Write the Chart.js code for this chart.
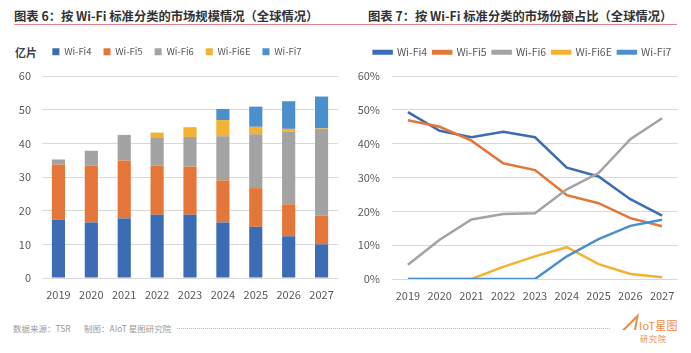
<!DOCTYPE html>
<html>
<head>
<meta charset="utf-8">
<script src="https://cdn.jsdelivr.net/npm/chart.js@4.4.1/dist/chart.umd.min.js"></script>
<style>
  body { margin: 0; width: 691px; height: 353px; overflow: hidden; position: relative; background: #fff;
         font-family: "Noto Sans CJK SC", "Noto Sans", sans-serif; }
  .title { position: absolute; top: 9px; font-size: 12.3px; line-height: 15px; font-weight: bold; color: #333; white-space: nowrap; }
  .rule { position: absolute; left: 14px; top: 24px; width: 663px; height: 1px; background: #e2848d; }
  .box { position: absolute; top: 30px; height: 274px; }
  .unit { position: absolute; left: 15px; top: 44px; font-size: 11px; font-weight: bold; color: #404040; }
  .foot { position: absolute; top: 322px; font-size: 8.5px; color: #9a9a9a; white-space: nowrap; }
  .dots { position: absolute; left: 177px; top: 328px; width: 433px; border-top: 1px dotted #b8b8b8; }
  .logo { position: absolute; left: 622px; top: 311px; width: 56px; height: 38px; color: #ef8a45; }
</style>
</head>
<body>
<div class="title" style="left:14px">图表 6：按 Wi-Fi 标准分类的市场规模情况（全球情况）</div>
<div class="title" style="left:368px">图表 7：按 Wi-Fi 标准分类的市场份额占比（全球情况）</div>
<div class="rule"></div>
<div class="unit">亿片</div>

<div class="box" style="left:0;width:345px"><canvas id="units"></canvas></div>
<div class="box" style="left:345px;width:346px"><canvas id="share"></canvas></div>

<div class="foot" style="left:13px">数据来源：TSR</div>
<div class="foot" style="left:84px">制图：AIoT 星图研究院</div>
<div class="dots"></div>
<div class="logo">
  <svg width="20" height="18" style="position:absolute;left:0;top:2px">
    <polygon points="0,17 17,0 14,17 12,17 14,6 3,17" fill="#ef8a45"/>
  </svg>
  <span style="position:absolute;left:17px;top:6px;font-size:11px;letter-spacing:0.2px">IoT星图</span>
  <span style="position:absolute;left:18px;top:22px;font-size:8px;letter-spacing:1px">研究院</span>
</div>

<script>
const years = ['2019', '2020', '2021', '2022', '2023', '2024', '2025', '2026', '2027'];
const seriesNames = ['Wi-Fi4', 'Wi-Fi5', 'Wi-Fi6', 'Wi-Fi6E', 'Wi-Fi7'];
const colors = ['#3c6db4', '#e5763a', '#a3a3a3', '#f4b232', '#4b90cc'];

// 亿片
const unitsWifi4  = [17.3, 16.5, 17.7, 18.8, 18.8, 16.5, 15.2, 12.4, 10.0];
const unitsWifi5  = [16.4, 16.9, 17.2, 14.6, 14.3, 12.5, 11.5, 9.5, 8.5];
const unitsWifi6  = [1.5, 4.4, 7.6, 8.4, 8.8, 13.1, 16.0, 21.6, 25.8];
const unitsWifi6E = [0, 0, 0, 1.4, 2.9, 4.8, 2.2, 0.8, 0.2];
const unitsWifi7  = [0, 0, 0, 0, 0, 3.3, 6.0, 8.2, 9.4];

// %
const shareWifi4  = [49.3, 43.8, 41.9, 43.5, 41.9, 32.9, 30.3, 23.6, 18.7];
const shareWifi5  = [46.9, 45.0, 40.9, 34.2, 32.2, 24.8, 22.4, 18.0, 15.6];
const shareWifi6  = [4.2, 11.6, 17.6, 19.2, 19.4, 26.5, 31.3, 41.3, 47.5];
const shareWifi6E = [0, 0, 0, 3.6, 6.7, 9.4, 4.4, 1.5, 0.5];
const shareWifi7  = [0, 0, 0, 0, 0, 6.7, 11.8, 15.7, 17.5];

const FONT = '"Noto Sans CJK SC", "Noto Sans", sans-serif';
const tickColor = '#595959';
const gridColor = '#d9d9d9';

// legend: 高さを固定してプロット上端を合わせ、横位置だけずらす
function legendBox(h, shift) {
  return {
    id: 'legendBox',
    beforeInit(chart) {
      const fit = chart.legend.fit;
      chart.legend.fit = function () { fit.call(this); this.height = h; };
    },
    afterLayout(chart) {
      chart.legend.left += shift;
      chart.legend.right += shift;
    }
  };
}

function axes(yMax, yWidth, yPad, xHeight, fmt) {
  return {
    x: {
      grid: { display: false, drawTicks: false },
      border: { display: false },
      ticks: { color: tickColor, padding: 10, font: { family: FONT, size: 11 } },
      afterFit: s => { s.height = xHeight; }
    },
    y: {
      min: 0, max: yMax,
      grid: { color: gridColor, lineWidth: 1, drawTicks: false },
      border: { display: false },
      ticks: { stepSize: 10, color: tickColor, padding: yPad, font: { family: FONT, size: 11 }, callback: fmt },
      afterFit: s => { s.width = yWidth; }
    }
  };
}

Chart.defaults.animation = false;

const unitAxes = axes(60, 42, 11, 26, v => v);
unitAxes.x.stacked = true;
unitAxes.y.stacked = true;

new Chart(document.getElementById('units'), {
  type: 'bar',
  data: {
    labels: years,
    datasets: [unitsWifi4, unitsWifi5, unitsWifi6, unitsWifi6E, unitsWifi7].map((d, i) => ({
      label: seriesNames[i], data: d, backgroundColor: colors[i], borderWidth: 0,
      categoryPercentage: 0.8, barPercentage: 0.5
    }))
  },
  options: {
    responsive: true,
    maintainAspectRatio: false,
    layout: { padding: { left: 0, right: 7, top: 5, bottom: 0 } },
    scales: unitAxes,
    plugins: {
      legend: {
        labels: { boxWidth: 7, boxHeight: 7, padding: 12, color: '#595959', font: { family: FONT, size: 9.5 } }
      },
      tooltip: { enabled: false }
    }
  },
  plugins: [legendBox(41, 8)]
});

const shareAxes = axes(60, 47, 12, 25, v => v + '%');
shareAxes.x.offset = true;

new Chart(document.getElementById('share'), {
  type: 'line',
  data: {
    labels: years,
    datasets: [shareWifi4, shareWifi5, shareWifi6, shareWifi6E, shareWifi7].map((d, i) => ({
      label: seriesNames[i], data: d, borderColor: colors[i], backgroundColor: colors[i],
      borderWidth: 2.5, pointRadius: 0, tension: 0, order: 4 - i
    }))
  },
  options: {
    responsive: true,
    maintainAspectRatio: false,
    layout: { padding: { left: 0, right: 13, top: 11, bottom: 0 } },
    scales: shareAxes,
    plugins: {
      legend: {
        labels: {
          boxWidth: 18, boxHeight: 2.5, padding: 6, color: '#595959',
          font: { family: FONT, size: 10.5 },
          sort: (a, b) => a.datasetIndex - b.datasetIndex
        }
      },
      tooltip: { enabled: false }
    }
  },
  plugins: [legendBox(35, 11)]
});
</script>
</body>
</html>
